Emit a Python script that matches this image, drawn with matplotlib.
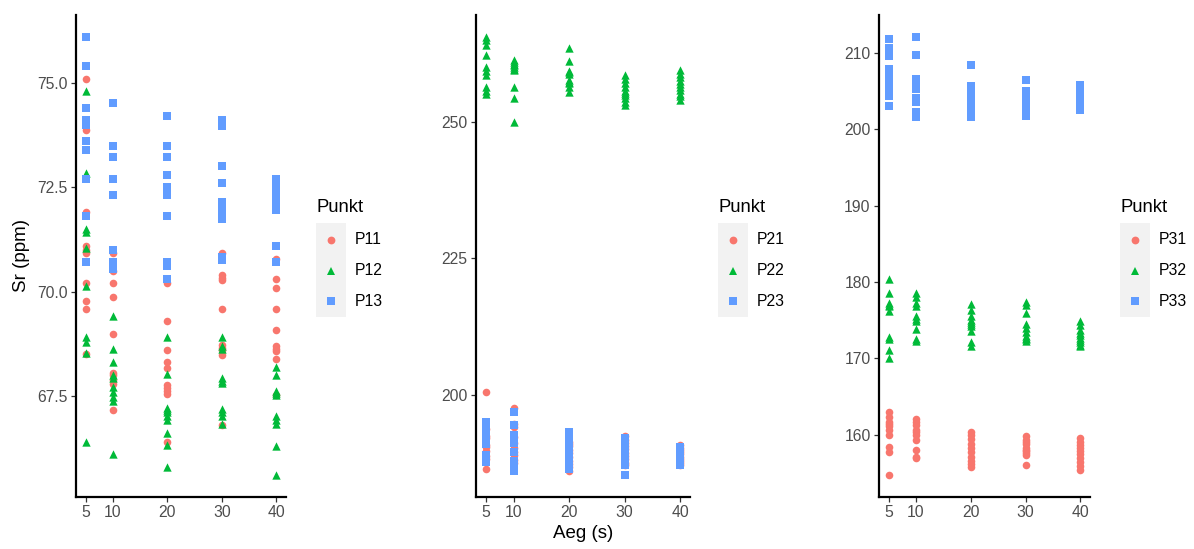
import matplotlib
matplotlib.use("Agg")
import matplotlib.pyplot as plt
from matplotlib.patches import Rectangle
from matplotlib.lines import Line2D

plt.rcParams['font.family'] = ['Liberation Sans', 'DejaVu Sans']

aeg = [5, 10, 20, 30, 40]

# Panel 1 (Sr, ppm)
P11 = [[75.10, 73.88, 71.90, 71.10, 71.00, 70.92, 70.21, 69.78, 69.58, 68.50],
       [70.92, 70.49, 70.20, 69.88, 68.99, 68.05, 68.00, 67.88, 67.80, 67.18],
       [70.20, 69.30, 68.60, 68.31, 68.18, 67.77, 67.70, 67.62, 67.55, 66.40],
       [70.93, 70.39, 70.33, 70.27, 69.58, 68.72, 68.65, 68.60, 68.48, 66.81],
       [70.78, 70.30, 70.10, 69.58, 69.08, 68.70, 68.62, 68.57, 68.40, 67.52]]
P12 = [[74.81, 72.84, 71.51, 71.43, 71.04, 70.13, 68.92, 68.80, 68.53, 66.41],
       [69.42, 68.62, 68.32, 68.00, 67.93, 67.71, 67.61, 67.49, 67.39, 66.12],
       [68.91, 68.03, 67.21, 67.16, 67.12, 67.02, 66.93, 66.62, 66.33, 65.81],
       [68.92, 68.70, 68.62, 67.93, 67.87, 67.81, 67.20, 67.12, 67.02, 66.84],
       [68.20, 68.00, 67.63, 67.57, 67.52, 67.03, 66.93, 66.83, 66.30, 65.61]]
P13 = [[76.10, 75.41, 74.40, 74.11, 74.00, 73.60, 73.40, 72.69, 71.81, 70.71],
       [74.52, 73.50, 73.22, 72.69, 72.32, 71.00, 70.72, 70.68, 70.62, 70.55],
       [74.20, 73.50, 73.22, 72.80, 72.50, 72.32, 71.81, 70.71, 70.61, 70.30],
       [74.12, 73.97, 73.02, 72.60, 72.14, 72.03, 71.91, 71.75, 70.83, 70.75],
       [72.69, 72.60, 72.54, 72.42, 72.28, 72.14, 72.00, 71.95, 71.09, 70.71]]

# Panel 2
P21 = [[200.5, 193.8, 192.5, 192.0, 190.8, 190.5, 189.8, 188.8, 188.3, 186.5],
       [197.5, 194.7, 194.1, 192.3, 191.1, 190.2, 189.6, 188.9, 188.0, 187.5],
       [191.4, 191.0, 190.6, 189.9, 189.3, 188.6, 187.8, 187.3, 186.8, 186.1],
       [192.4, 191.8, 191.2, 190.6, 190.0, 189.4, 188.8, 188.2, 187.6, 187.1],
       [190.8, 190.3, 189.9, 189.5, 189.1, 188.7, 188.3, 187.9, 187.5, 187.1]]
P22 = [[265.5, 264.9, 264.0, 262.2, 260.0, 259.2, 258.5, 256.4, 255.6, 255.0],
       [261.2, 260.9, 260.6, 260.3, 260.0, 259.7, 259.4, 256.4, 254.4, 249.9],
       [263.5, 261.1, 259.3, 259.0, 258.7, 257.6, 257.3, 257.0, 256.4, 255.5],
       [258.5, 257.8, 257.1, 256.4, 255.6, 255.2, 254.9, 254.3, 253.6, 253.0],
       [259.4, 258.8, 258.1, 257.5, 256.9, 256.3, 255.7, 255.1, 254.6, 254.0]]
P23 = [[195.0, 194.3, 193.6, 192.9, 192.2, 191.5, 190.9, 188.9, 188.3, 187.7],
       [196.8, 194.5, 192.6, 191.9, 191.2, 189.5, 187.8, 187.2, 186.6, 186.0],
       [193.2, 192.5, 191.8, 191.0, 190.3, 189.5, 188.8, 188.0, 187.3, 186.5],
       [192.0, 191.4, 190.8, 190.2, 189.5, 188.9, 188.3, 187.7, 187.1, 185.3],
       [190.5, 190.1, 189.7, 189.3, 188.9, 188.5, 188.1, 187.7, 187.4, 187.1]]

# Panel 3
P31 = [[162.9, 162.3, 161.7, 161.4, 161.1, 160.6, 160.0, 158.4, 157.7, 154.7],
       [162.0, 161.6, 161.3, 160.6, 160.3, 159.9, 159.3, 158.0, 157.1, 156.9],
       [160.4, 159.9, 159.4, 158.8, 158.2, 157.7, 157.1, 156.6, 156.2, 155.8],
       [159.8, 159.3, 159.0, 158.8, 158.3, 158.0, 157.8, 157.6, 157.3, 156.0],
       [159.5, 159.1, 158.7, 158.2, 157.8, 157.4, 156.9, 156.4, 155.9, 155.4]]
P32 = [[180.4, 178.5, 177.3, 177.0, 176.8, 176.2, 172.8, 172.5, 171.1, 170.1],
       [178.5, 178.0, 177.3, 176.8, 175.6, 175.1, 174.9, 173.9, 172.5, 172.2],
       [177.1, 176.3, 175.6, 175.0, 174.8, 174.5, 174.2, 173.6, 172.1, 171.6],
       [177.4, 177.0, 175.9, 174.5, 174.0, 173.5, 172.9, 172.7, 172.5, 172.3],
       [174.9, 174.4, 173.7, 173.3, 173.0, 172.7, 172.4, 172.1, 171.8, 171.6]]
P33 = [[211.8, 210.7, 209.6, 207.9, 207.2, 206.5, 205.7, 205.2, 204.4, 203.0],
       [212.1, 209.7, 206.6, 206.0, 205.3, 204.1, 203.6, 202.3, 202.0, 201.6],
       [208.4, 205.7, 205.1, 204.6, 204.0, 203.5, 203.0, 202.5, 202.0, 201.6],
       [206.4, 205.0, 204.6, 204.2, 203.8, 203.3, 202.9, 202.5, 202.1, 201.8],
       [205.8, 205.3, 205.0, 204.4, 204.0, 203.6, 203.2, 202.9, 202.7, 202.5]]

panels = [
    (["P11", "P12", "P13"], [P11, P12, P13], [67.5, 70.0, 72.5, 75.0], "{:.1f}"),
    (["P21", "P22", "P23"], [P21, P22, P23], [200, 225, 250], "{:.0f}"),
    (["P31", "P32", "P33"], [P31, P32, P33], [160, 170, 180, 190, 200, 210], "{:.0f}"),
]

colors = ["#F8766D", "#00BA38", "#619CFF"]
markers = ["o", "^", "s"]
msizes = [30, 36, 30]

W, H = 1194, 549
fig = plt.figure(figsize=(W / 100, H / 100), dpi=100)

ax_px = [(76, 286), (476, 690), (879, 1090)]
leg_px = [316, 718, 1120]
top_px, bot_px = 15, 497

tick_col = "#4D4D4D"

for i, (names, series, yticks, fmt) in enumerate(panels):
    l, r = ax_px[i]
    ax = fig.add_axes([l / W, (H - bot_px) / H, (r - l) / W, (bot_px - top_px) / H])
    allv = []
    for s, (name, data) in enumerate(zip(names, series)):
        xs, ys = [], []
        for xv, vals in zip(aeg, data):
            xs += [xv] * len(vals)
            ys += vals
        allv += ys
        ax.scatter(xs, ys, s=msizes[s], marker=markers[s], color=colors[s],
                   linewidths=0, zorder=3)
    lo, hi = min(allv), max(allv)
    pad = 0.05 * (hi - lo)
    ax.set_ylim(lo - pad, hi + pad)
    ax.set_xlim(5 - 0.05 * 35, 40 + 0.05 * 35)
    ax.set_xticks(aeg)
    ax.set_yticks(yticks)
    ax.set_yticklabels([fmt.format(v) for v in yticks])
    for sp in ["top", "right"]:
        ax.spines[sp].set_visible(False)
    for sp in ["left", "bottom"]:
        ax.spines[sp].set_linewidth(1.6)
        ax.spines[sp].set_color("black")
    ax.tick_params(axis="both", length=3.5, width=0.9, color="#333333",
                   labelcolor=tick_col, labelsize=11.3, pad=2.5)
    ax.set_facecolor("white")
    if i == 0:
        ax.set_ylabel("Sr (ppm)", fontsize=13.5, labelpad=5)
    if i == 1:
        ax.set_xlabel("Aeg (s)", fontsize=13.5, labelpad=3)

    # legend (manual, ggplot style)
    lx = leg_px[i]
    fig.text(lx / W, 1 - 208 / H, "Punkt", fontsize=13.3, ha="left", va="center")
    fig.add_artist(Rectangle((lx / W, 1 - 317 / H), 30 / W, 94 / H,
                             transform=fig.transFigure, facecolor="#F2F2F2",
                             edgecolor="none"))
    for s, name in enumerate(names):
        ky = 240 + 30.5 * s
        fig.add_artist(Line2D([(lx + 15) / W], [1 - ky / H], marker=markers[s],
                              color=colors[s], markersize=[5.6, 6.2, 5.3][s],
                              markeredgewidth=0, linestyle="none",
                              transform=fig.transFigure))
        fig.text((lx + 39) / W, 1 - ky / H, name, fontsize=11.3, ha="left",
                 va="center")

fig.savefig("out.png", dpi=100, facecolor="white")
